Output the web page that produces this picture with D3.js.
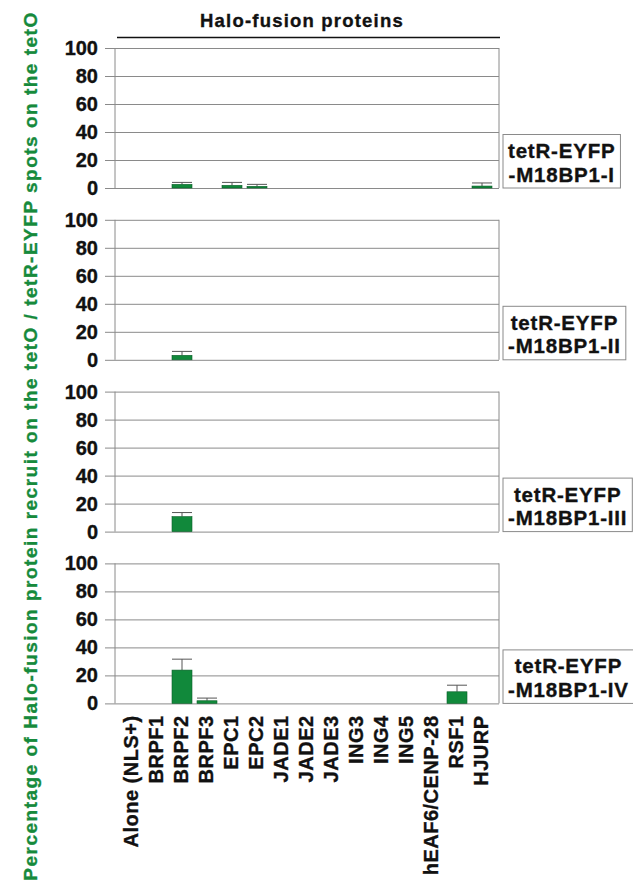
<!DOCTYPE html>
<html>
<head>
<meta charset="utf-8">
<script src="https://d3js.org/d3.v7.min.js"></script>
<style>
body {
    margin: 0;
    background: #fff;
}
text {
    font-family: "Liberation Sans", Arial, Helvetica, sans-serif;
    font-weight: bold;
    fill: #111;
    stroke: #111;
    stroke-width: 0.35px;
}
.grid line {
    stroke: #8a8a8a;
    stroke-width: 1;
}
.grid text {
    font-size: 20px;
}
.frame {
    stroke: #8a8a8a;
    stroke-width: 1;
    fill: none;
}
.bar {
    fill: #11893b;
    stroke: #0b5e29;
    stroke-width: 0.6;
}
.err {
    stroke: #555;
    stroke-width: 1;
    fill: none;
}
.cat-label {
    font-size: 20px;
    letter-spacing: 0.5px;
}
.box rect {
    fill: #fff;
    stroke: #8a8a8a;
    stroke-width: 1;
}
.box text {
    font-size: 20.5px;
    letter-spacing: 0.8px;
}
</style>
</head>
<body>
<script>

// proteins fused to Halo (x axis)
var categories = ["Alone (NLS+)", "BRPF1", "BRPF2", "BRPF3", "EPC1", "EPC2", "JADE1",
                  "JADE2", "JADE3", "ING3", "ING4", "ING5", "hEAF6/CENP-28", "RSF1", "HJURP"];

var yTicks = [0, 20, 40, 60, 80, 100];

// one panel per tetR-EYFP-M18BP1 fragment
var panelLabels = [
    ["tetR-EYFP", "-M18BP1-I"],
    ["tetR-EYFP", "-M18BP1-II"],
    ["tetR-EYFP", "-M18BP1-III"],
    ["tetR-EYFP", "-M18BP1-IV"]
];

// mean % recruitment
var meansI   = [0, 0, 2.6, 0, 1.9, 1.2, 0, 0, 0, 0, 0, 0, 0, 0, 1.4];
var meansII  = [0, 0, 3.2, 0, 0, 0, 0, 0, 0, 0, 0, 0, 0, 0, 0];
var meansIII = [0, 0, 10.7, 0, 0, 0, 0, 0, 0, 0, 0, 0, 0, 0, 0];
var meansIV  = [0, 0, 23.8, 1.9, 0, 0, 0, 0, 0, 0, 0, 0, 0, 8.3, 0];

// error bar (upward only)
var errI   = [0, 0, 1.4, 0, 2.1, 1.4, 0, 0, 0, 0, 0, 0, 0, 0, 2.2];
var errII  = [0, 0, 2.8, 0, 0, 0, 0, 0, 0, 0, 0, 0, 0, 0, 0];
var errIII = [0, 0, 2.9, 0, 0, 0, 0, 0, 0, 0, 0, 0, 0, 0, 0];
var errIV  = [0, 0, 7.8, 1.9, 0, 0, 0, 0, 0, 0, 0, 0, 0, 4.7, 0];

var allMeans = [meansI, meansII, meansIII, meansIV];
var allErr = [errI, errII, errIII, errIV];

var width = 633, height = 885;
var plotLeft = 115, plotRight = 499, tickLeft = 105;
var panelTop = 48, panelHeight = 140, panelStep = 171.8;

var svg = d3.select("body").append("svg")
    .attr("width", width)
    .attr("height", height);

var x = d3.scaleBand()
    .domain(categories)
    .range([plotLeft, plotRight])
    .paddingInner(0.2)
    .paddingOuter(0.28);

// title + bracket line
svg.append("text")
    .attr("x", 302)
    .attr("y", 27)
    .attr("text-anchor", "middle")
    .style("font-size", "18.5px")
    .style("letter-spacing", "1.2px")
    .text("Halo-fusion proteins");

svg.append("line")
    .attr("x1", 117).attr("x2", 500)
    .attr("y1", 37.5).attr("y2", 37.5)
    .attr("stroke", "#111")
    .attr("stroke-width", 1.3);

// green y title
svg.append("text")
    .attr("transform", "translate(37,446) rotate(-90)")
    .attr("text-anchor", "middle")
    .style("font-size", "19px")
    .style("letter-spacing", "1.5px")
    .style("fill", "#168a3c")
    .style("stroke", "#168a3c")
    .text("Percentage of Halo-fusion protein recruit on the tetO / tetR-EYFP spots on the tetO");

panelLabels.forEach(function(lab, p) {
    var top = panelTop + p * panelStep;
    var y = d3.scaleLinear()
        .domain([0, 100])
        .range([top + panelHeight, top]);

    var rows = categories.map(function(c, i) {
        return {name: c, mean: allMeans[p][i], err: allErr[p][i]};
    });

    var yAxis = d3.axisLeft(y)
        .tickValues(yTicks)
        .tickSize(-(plotRight - tickLeft))
        .tickPadding(7);

    var g = svg.append("g")
        .attr("class", "grid")
        .attr("transform", "translate(" + tickLeft + ",0)")
        .call(yAxis);
    g.select(".domain").remove();

    // left axis + right border
    svg.append("line")
        .attr("class", "frame")
        .attr("x1", plotLeft).attr("x2", plotLeft)
        .attr("y1", y(100)).attr("y2", y(0));
    svg.append("line")
        .attr("class", "frame")
        .attr("x1", plotRight).attr("x2", plotRight)
        .attr("y1", y(100)).attr("y2", y(0));

    var nonZero = rows.filter(function(d) { return d.mean > 0 });

    svg.selectAll(".err-" + p)
        .data(nonZero)
      .enter().append("path")
        .attr("class", "err err-" + p)
        .attr("d", function(d) {
            var cx = x(d.name) + x.bandwidth() / 2;
            var yt = y(d.mean + d.err);
            return "M" + cx + "," + y(d.mean) + "V" + yt +
                   "M" + x(d.name) + "," + yt + "H" + (x(d.name) + x.bandwidth());
        });

    svg.selectAll(".bar-" + p)
        .data(nonZero)
      .enter().append("rect")
        .attr("class", "bar bar-" + p)
        .attr("x", function(d) { return x(d.name) })
        .attr("width", x.bandwidth())
        .attr("y", function(d) { return y(d.mean) })
        .attr("height", function(d) { return y(0) - y(d.mean) });

    // fragment label box
    var box = svg.append("g")
        .attr("class", "box");
    var rect = box.append("rect");
    var t1 = box.append("text").attr("y", y(0) - 30).attr("text-anchor", "middle").text(lab[0]);
    var t2 = box.append("text").attr("y", y(0) - 6.5).attr("text-anchor", "middle").text(lab[1]);
    var w = Math.max(t1.node().getComputedTextLength(), t2.node().getComputedTextLength()) + 10;
    var bx = 503;
    rect.attr("x", bx).attr("y", y(0) - 53.5)
        .attr("width", w).attr("height", 53.5);
    t1.attr("x", bx + w / 2);
    t2.attr("x", bx + w / 2);

    if (p === panelLabels.length - 1) {
        svg.selectAll(".cat-label")
            .data(categories)
          .enter().append("text")
            .attr("class", "cat-label")
            .attr("text-anchor", "end")
            .attr("dy", "0.28em")
            .attr("transform", function(d) {
                return "translate(" + (x(d) + x.bandwidth() / 2) + "," + (y(0) + 12) + ") rotate(-90)";
            })
            .text(function(d) { return d });
    }
});

</script>
</body>
</html>
